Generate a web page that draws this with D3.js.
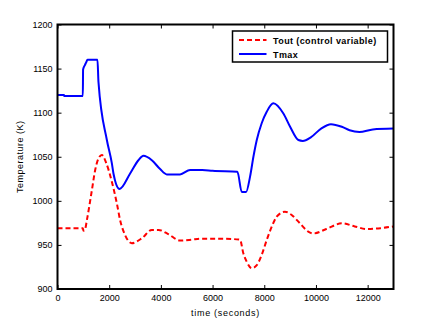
<!DOCTYPE html>
<html>
<head>
<meta charset="utf-8">
<script src="https://cdn.jsdelivr.net/npm/d3@7"></script>
<style>
  body { margin: 0; background: #fff; }
  text { font-family: Arial, "Liberation Sans", sans-serif; }
</style>
</head>
<body>
<svg id="chart" width="436" height="326"></svg>
<script>
// Tout (control variable)
const toutTime = [0, 980, 1005, 1060, 1136, 1330, 1458, 1585, 1716, 1883, 2100, 2297, 2424, 2617, 2876, 3263, 3650, 3905,
  4300, 4740, 5200, 5530, 6400, 7060, 7190, 7320, 7515, 7710, 7900, 8095, 8290, 8480, 8800, 9060, 9380, 9700,
  9900, 10400, 11000, 11500, 11960, 12500, 13000];
const toutValue = [969, 969, 966, 967, 978, 1012, 1035, 1048, 1052, 1043, 1022, 997, 978, 961, 952, 957.5, 967, 967,
  962, 955, 956, 957, 957, 956, 940.5, 931, 923.5, 927, 938.6, 955.6, 970.7, 982, 987.7, 984, 974.5, 965,
  963, 968, 974.5, 971, 968, 969, 971];

// Tmax
const tmaxTime = [0, 250, 260, 980, 990, 1060, 1110, 1160, 1546, 1585, 1910, 2100, 2165, 2400, 2810, 3130, 3325, 3650, 3970,
  4230, 4740, 5130, 5600, 6000, 6960, 7130, 7295, 7450, 7580, 7710, 7900, 8095, 8350, 8740, 9000, 9320,
  9490, 9800, 10200, 10580, 11000, 11300, 11680, 12200, 13000];
const tmaxValue = [1120, 1120, 1119, 1119, 1149, 1154, 1157, 1160, 1160, 1135, 1069, 1043, 1031, 1013.4, 1031, 1046, 1051, 1046, 1036,
  1030, 1030, 1035, 1035, 1034, 1033, 1010, 1010, 1027.4, 1050, 1069, 1088, 1101, 1110.6, 1099, 1084, 1069,
  1068, 1072, 1082, 1087, 1084, 1080, 1078, 1081, 1082];

const xTicks = [0, 2000, 4000, 6000, 8000, 10000, 12000];
const yTicks = [900, 950, 1000, 1050, 1100, 1150, 1200];
const seriesNames = ["Tout (control variable)", "Tmax"];

const margin = { top: 24.5, right: 42.5, bottom: 37, left: 57.5 };
const width = 436 - margin.left - margin.right;
const height = 326 - margin.top - margin.bottom;

const svg = d3.select("#chart");
const chart = svg.append("g")
  .attr("transform", `translate(${margin.left},${margin.top})`);

const x = d3.scaleLinear().domain([0, 13000]).range([0, width]);
const y = d3.scaleLinear().domain([900, 1200]).range([height, 0]);

// axes, ticks pointing inward like matlab
const fmt = d3.format("d");
const styleAxis = g => {
  g.select(".domain").remove();
  g.selectAll("line").attr("stroke", "#000");
  g.selectAll("text").attr("font-size", 9).attr("fill", "#000");
};

chart.append("g")
  .attr("transform", `translate(0,${height})`)
  .call(d3.axisBottom(x).tickValues(xTicks).tickFormat(fmt).tickSizeInner(-4).tickSizeOuter(0).tickPadding(6))
  .call(styleAxis);
chart.append("g")
  .call(d3.axisTop(x).tickValues(xTicks).tickFormat("").tickSizeInner(-4).tickSizeOuter(0))
  .call(styleAxis);
chart.append("g")
  .call(d3.axisLeft(y).tickValues(yTicks).tickFormat(fmt).tickSizeInner(-4).tickSizeOuter(0).tickPadding(5))
  .call(styleAxis);
chart.append("g")
  .attr("transform", `translate(${width},0)`)
  .call(d3.axisRight(y).tickValues(yTicks).tickFormat("").tickSizeInner(-4).tickSizeOuter(0))
  .call(styleAxis);

// lines
const line = d3.line()
  .x(d => x(d[0]))
  .y(d => y(d[1]))
  .curve(d3.curveMonotoneX);

chart.append("path")
  .datum(d3.zip(toutTime, toutValue))
  .attr("fill", "none")
  .attr("stroke", "#ff0000")
  .attr("stroke-width", 2)
  .attr("stroke-dasharray", "5,3")
  .attr("d", line);

chart.append("path")
  .datum(d3.zip(tmaxTime, tmaxValue))
  .attr("fill", "none")
  .attr("stroke", "#0000ff")
  .attr("stroke-width", 2)
  .attr("d", line);

// box
chart.append("rect")
  .attr("width", width)
  .attr("height", height)
  .attr("fill", "none")
  .attr("stroke", "#000")
  .attr("stroke-width", 2);

// labels
svg.append("text")
  .attr("x", margin.left + width / 2)
  .attr("y", 316)
  .attr("text-anchor", "middle")
  .attr("font-size", 9)
  .attr("letter-spacing", 0.7)
  .text("time (seconds)");

svg.append("text")
  .attr("transform", `translate(23,${margin.top + height / 2}) rotate(-90)`)
  .attr("text-anchor", "middle")
  .attr("font-size", 9)
  .attr("letter-spacing", 0.5)
  .text("Temperature (K)");

// legend
const legend = svg.append("g").attr("transform", "translate(232.5,31)");
legend.append("rect")
  .attr("width", 155)
  .attr("height", 31)
  .attr("fill", "#fff")
  .attr("stroke", "#000")
  .attr("stroke-width", 1.5);

const legendColors = ["#ff0000", "#0000ff"];
const legendDash = ["5,3", null];
seriesNames.forEach((name, i) => {
  const ly = 9 + i * 14;
  legend.append("line")
    .attr("x1", 6.5).attr("x2", 34)
    .attr("y1", ly).attr("y2", ly)
    .attr("stroke", legendColors[i])
    .attr("stroke-width", 2)
    .attr("stroke-dasharray", legendDash[i]);
  legend.append("text")
    .attr("x", 40.5)
    .attr("y", ly + 3.5)
    .attr("font-size", 9)
    .attr("font-weight", "bold")
    .attr("letter-spacing", 0.4)
    .text(name);
});
</script>
</body>
</html>
